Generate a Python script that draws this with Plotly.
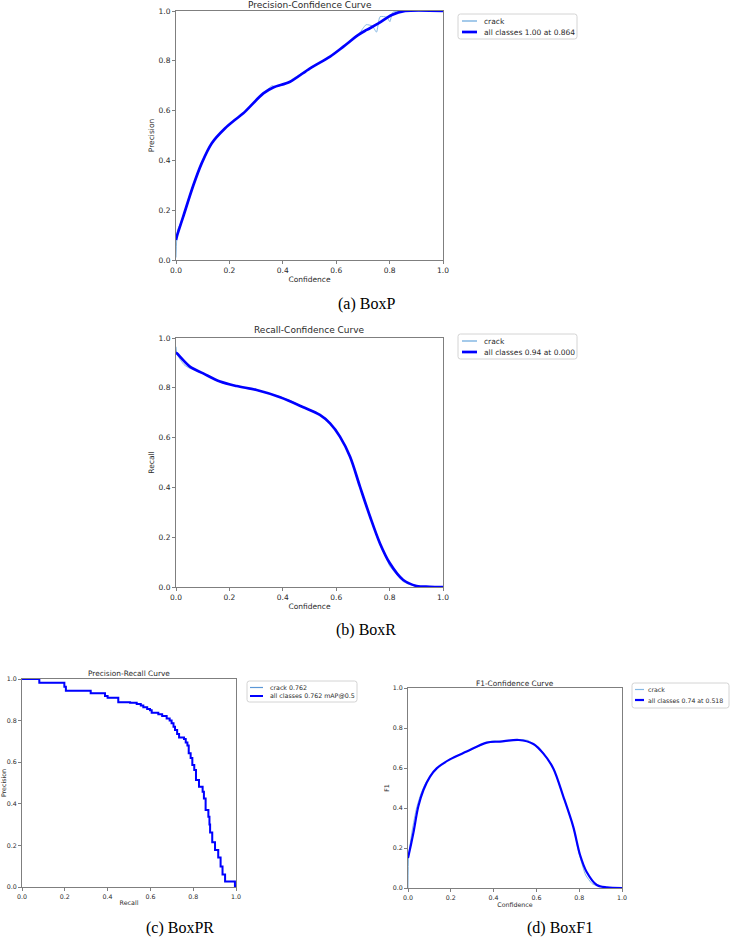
import plotly.graph_objects as go

W, H = 730, 937

# ---------------- data ----------------
# (a) Precision-Confidence
p_conf_all = [0.0, 0.003, 0.027, 0.065, 0.096, 0.134, 0.184, 0.22, 0.252, 0.327, 0.364, 0.427,
              0.502, 0.577, 0.627, 0.683, 0.714, 0.758, 0.808, 0.858, 1.0]
p_all = [0.08, 0.094, 0.174, 0.30, 0.388, 0.469, 0.529, 0.562, 0.589, 0.669, 0.693, 0.716,
         0.770, 0.817, 0.857, 0.904, 0.924, 0.950, 0.984, 1.0, 1.0]
p_conf_crack = [0.0, 0.006, 0.027, 0.065, 0.096, 0.134, 0.184, 0.22, 0.252, 0.327, 0.36, 0.37,
                0.427, 0.43, 0.502, 0.577, 0.627, 0.683, 0.70, 0.712, 0.735, 0.751, 0.764,
                0.79, 0.801, 0.812, 0.858, 1.0]
p_crack = [0.01, 0.12, 0.17, 0.30, 0.388, 0.469, 0.529, 0.562, 0.589, 0.669, 0.70, 0.695,
           0.716, 0.722, 0.770, 0.817, 0.857, 0.904, 0.93, 0.945, 0.94, 0.915, 0.977,
           0.975, 0.957, 0.995, 1.0, 1.0]

# (b) Recall-Confidence
r_conf_all = [0.0, 0.0025, 0.052, 0.102, 0.165, 0.227, 0.302, 0.390, 0.477, 0.539, 0.577,
              0.614, 0.652, 0.689, 0.727, 0.764, 0.801, 0.851, 0.901, 0.95, 1.0]
r_all = [0.94, 0.939, 0.885, 0.858, 0.825, 0.807, 0.791, 0.762, 0.722, 0.691, 0.657,
         0.604, 0.523, 0.403, 0.282, 0.175, 0.095, 0.028, 0.004, 0.001, 0.0]
r_conf_crack = [0.0, 0.004, 0.03, 0.052, 0.075, 0.102, 0.165, 0.227, 0.302, 0.39, 0.41, 0.43,
                0.477, 0.539, 0.56, 0.577, 0.614, 0.652, 0.689, 0.727, 0.764, 0.79, 0.80,
                0.851, 0.87, 0.901, 1.0]
r_crack = [0.965, 0.935, 0.893, 0.878, 0.872, 0.858, 0.823, 0.807, 0.791, 0.764, 0.756, 0.748,
           0.722, 0.691, 0.678, 0.660, 0.604, 0.523, 0.403, 0.282, 0.170, 0.11, 0.085,
           0.022, 0.012, 0.003, 0.0]

# (c) Precision-Recall (step corners)
pr_recall = [0.0, 0.081, 0.198, 0.205, 0.321, 0.388, 0.40, 0.450, 0.505, 0.536, 0.555, 0.567,
             0.585, 0.598, 0.606, 0.637, 0.655, 0.676, 0.69, 0.699, 0.708, 0.715, 0.725,
             0.734, 0.757, 0.765, 0.773, 0.779, 0.788, 0.796, 0.805, 0.813, 0.827, 0.844,
             0.850, 0.858, 0.871, 0.876, 0.879, 0.889, 0.902, 0.917, 0.928, 0.937, 0.949,
             0.995, 1.0]
pr_precision = [1.0, 0.982, 0.963, 0.944, 0.931, 0.918, 0.910, 0.888, 0.886, 0.880, 0.872, 0.864,
                0.856, 0.850, 0.838, 0.830, 0.822, 0.810, 0.80, 0.787, 0.770, 0.755, 0.735,
                0.719, 0.712, 0.695, 0.680, 0.643, 0.620, 0.587, 0.563, 0.514, 0.482, 0.458,
                0.426, 0.370, 0.338, 0.300, 0.262, 0.215, 0.178, 0.142, 0.098, 0.06, 0.026,
                0.005, 0.0]

# (d) F1-Confidence
f_conf_all = [0.0, 0.0016, 0.025, 0.048, 0.072, 0.103, 0.134, 0.196, 0.274, 0.368, 0.430,
              0.518, 0.586, 0.632, 0.679, 0.726, 0.772, 0.804, 0.835, 0.882, 0.929, 1.0]
f_all = [0.15, 0.157, 0.275, 0.407, 0.49, 0.557, 0.598, 0.643, 0.682, 0.727, 0.732,
         0.74, 0.72, 0.673, 0.598, 0.457, 0.307, 0.165, 0.08, 0.015, 0.003, 0.0]
f_conf_crack = [0.0, 0.003, 0.02, 0.04, 0.06, 0.08, 0.103, 0.134, 0.196, 0.274, 0.368, 0.40,
                0.430, 0.523, 0.56, 0.586, 0.632, 0.679, 0.726, 0.772, 0.80, 0.83, 0.86,
                0.882, 0.929, 1.0]
f_crack = [0.0, 0.16, 0.29, 0.40, 0.47, 0.52, 0.557, 0.598, 0.645, 0.682, 0.727, 0.737,
           0.732, 0.742, 0.738, 0.72, 0.675, 0.598, 0.457, 0.307, 0.17, 0.065, 0.022,
           0.012, 0.003, 0.0]

legend_a = ["crack", "all classes 1.00 at 0.864"]
legend_b = ["crack", "all classes 0.94 at 0.000"]
legend_c = ["crack 0.762", "all classes 0.762 mAP@0.5"]
legend_d = ["crack", "all classes 0.74 at 0.518"]

titles = ["Precision-Confidence Curve", "Recall-Confidence Curve",
          "Precision-Recall Curve", "F1-Confidence Curve"]
captions = ["(a) BoxP", "(b) BoxR", "(c) BoxPR", "(d) BoxF1"]
tick_vals = [0.0, 0.2, 0.4, 0.6, 0.8, 1.0]

# ---------------- helpers ----------------
def fx(px):
    return px / W

def fy(py):
    return 1 - py / H

THIN_LIGHT = "#86b8e3"
THIN_PR = "#5b97d6"
BLUE = "#0000ff"
TXT = "#2a2a2a"
SPINE = "#7f7f7f"

fig = go.Figure()

panels = [
    dict(l=176, r=443, t=11, b=260, fs=7.5, tfs=9.0),
    dict(l=176, r=443, t=338, b=587, fs=7.5, tfs=9.0),
    dict(l=22, r=236, t=679, b=887, fs=6.3, tfs=7.4),
    dict(l=408, r=622, t=688, b=888, fs=6.3, tfs=7.4),
]
xlabels = ["Confidence", "Confidence", "Recall", "Confidence"]
ylabels = ["Precision", "Recall", "Precision", "F1"]

layout_axes = {}
for i, p in enumerate(panels):
    n = "" if i == 0 else str(i + 1)
    common = dict(range=[0, 1], tickvals=tick_vals, tickformat=".1f", showgrid=False,
                  zeroline=False, showline=True, linecolor=SPINE, linewidth=1, mirror=True,
                  ticks="outside", ticklen=3, tickwidth=1, tickcolor=SPINE,
                  tickfont=dict(size=p["fs"], color=TXT), automargin=False, fixedrange=True)
    layout_axes["xaxis" + n] = dict(common, domain=[fx(p["l"]), fx(p["r"])], anchor="y" + n,
                                    title=dict(text=xlabels[i], font=dict(size=p["fs"], color=TXT), standoff=2))
    layout_axes["yaxis" + n] = dict(common, domain=[fy(p["b"]), fy(p["t"])], anchor="x" + n,
                                    title=dict(text=ylabels[i], font=dict(size=p["fs"], color=TXT), standoff=2))

def smooth_line(color, width, sm):
    return dict(color=color, width=width, shape="spline", smoothing=sm)

fig.add_trace(go.Scatter(x=p_conf_crack, y=p_crack, mode="lines", line=smooth_line(THIN_LIGHT, 1, 0.5),
                         xaxis="x", yaxis="y", showlegend=False, name=legend_a[0]))
fig.add_trace(go.Scatter(x=p_conf_all, y=p_all, mode="lines", line=smooth_line(BLUE, 2.7, 0.9),
                         xaxis="x", yaxis="y", showlegend=False, name=legend_a[1]))
fig.add_trace(go.Scatter(x=r_conf_crack, y=r_crack, mode="lines", line=smooth_line(THIN_LIGHT, 1, 0.5),
                         xaxis="x2", yaxis="y2", showlegend=False, name=legend_b[0]))
fig.add_trace(go.Scatter(x=r_conf_all, y=r_all, mode="lines", line=smooth_line(BLUE, 2.7, 0.9),
                         xaxis="x2", yaxis="y2", showlegend=False, name=legend_b[1]))
fig.add_trace(go.Scatter(x=pr_recall, y=pr_precision, mode="lines", line=dict(color=THIN_PR, width=1, shape="hv"),
                         xaxis="x3", yaxis="y3", showlegend=False, name=legend_c[0]))
fig.add_trace(go.Scatter(x=pr_recall, y=pr_precision, mode="lines", line=dict(color=BLUE, width=2.0, shape="hv"),
                         xaxis="x3", yaxis="y3", showlegend=False, name=legend_c[1]))
fig.add_trace(go.Scatter(x=f_conf_crack, y=f_crack, mode="lines", line=smooth_line(THIN_LIGHT, 1, 0.5),
                         xaxis="x4", yaxis="y4", showlegend=False, name=legend_d[0]))
fig.add_trace(go.Scatter(x=f_conf_all, y=f_all, mode="lines", line=smooth_line(BLUE, 2.2, 0.9),
                         xaxis="x4", yaxis="y4", showlegend=False, name=legend_d[1]))

annotations = []
shapes = []

for i, p in enumerate(panels):
    ty = [5, 330, 673, 683][i]
    annotations.append(dict(text=titles[i], x=fx((p["l"] + p["r"]) / 2), y=fy(ty), xref="paper", yref="paper",
                            showarrow=False, xanchor="center", yanchor="middle",
                            font=dict(size=p["tfs"], color=TXT)))

cap_pos = [(366, 304), (366, 630), (180, 928), (560, 928)]
for i, (cx, cy) in enumerate(cap_pos):
    annotations.append(dict(text=captions[i], x=fx(cx), y=fy(cy), xref="paper", yref="paper",
                            showarrow=False, xanchor="center", yanchor="middle",
                            font=dict(size=16, color="black", family="Liberation Serif")))

def rrect_path(x0, y0, x1, y1, r):
    return (f"M {fx(x0 + r)},{fy(y0)} L {fx(x1 - r)},{fy(y0)} Q {fx(x1)},{fy(y0)} {fx(x1)},{fy(y0 + r)} "
            f"L {fx(x1)},{fy(y1 - r)} Q {fx(x1)},{fy(y1)} {fx(x1 - r)},{fy(y1)} "
            f"L {fx(x0 + r)},{fy(y1)} Q {fx(x0)},{fy(y1)} {fx(x0)},{fy(y1 - r)} "
            f"L {fx(x0)},{fy(y0 + r)} Q {fx(x0)},{fy(y0)} {fx(x0 + r)},{fy(y0)} Z")

legends = [
    dict(box=(458, 14, 577, 39), rows=(21, 32), hx=(462, 477), tx=482, fs=7.5, labels=legend_a,
         colors=(THIN_LIGHT, BLUE), widths=(1.5, 2.7)),
    dict(box=(458, 334, 577, 359), rows=(341, 352), hx=(462, 477), tx=482, fs=7.5, labels=legend_b,
         colors=(THIN_LIGHT, BLUE), widths=(1.5, 2.7)),
    dict(box=(247, 681, 357, 702), rows=(687.5, 696), hx=(250, 263), tx=268, fs=6.3, labels=legend_c,
         colors=(THIN_PR, BLUE), widths=(1.2, 2.0)),
    dict(box=(632, 683, 729, 708), rows=(689.5, 700), hx=(635, 644), tx=646, fs=6.2, labels=legend_d,
         colors=(THIN_LIGHT, BLUE), widths=(1.2, 2.2)),
]
for lg in legends:
    x0, y0, x1, y1 = lg["box"]
    shapes.append(dict(type="path", path=rrect_path(x0, y0, x1, y1, 2.5), xref="paper", yref="paper",
                       line=dict(color="#d4d4d4", width=1), fillcolor="rgba(255,255,255,0.85)", layer="above"))
    for k in range(2):
        ry = lg["rows"][k]
        shapes.append(dict(type="line", x0=fx(lg["hx"][0]), x1=fx(lg["hx"][1]), y0=fy(ry), y1=fy(ry),
                           xref="paper", yref="paper", line=dict(color=lg["colors"][k], width=lg["widths"][k]),
                           layer="above"))
        annotations.append(dict(text=lg["labels"][k], x=fx(lg["tx"]), y=fy(ry), xref="paper", yref="paper",
                                showarrow=False, xanchor="left", yanchor="middle",
                                font=dict(size=lg["fs"], color=TXT)))

fig.update_layout(
    template="none",
    width=W, height=H,
    margin=dict(l=0, r=0, t=0, b=0, pad=0),
    paper_bgcolor="white", plot_bgcolor="white",
    font=dict(family="DejaVu Sans", color=TXT),
    showlegend=False,
    annotations=annotations,
    shapes=shapes,
    **layout_axes,
)

fig.write_html("out.html")
